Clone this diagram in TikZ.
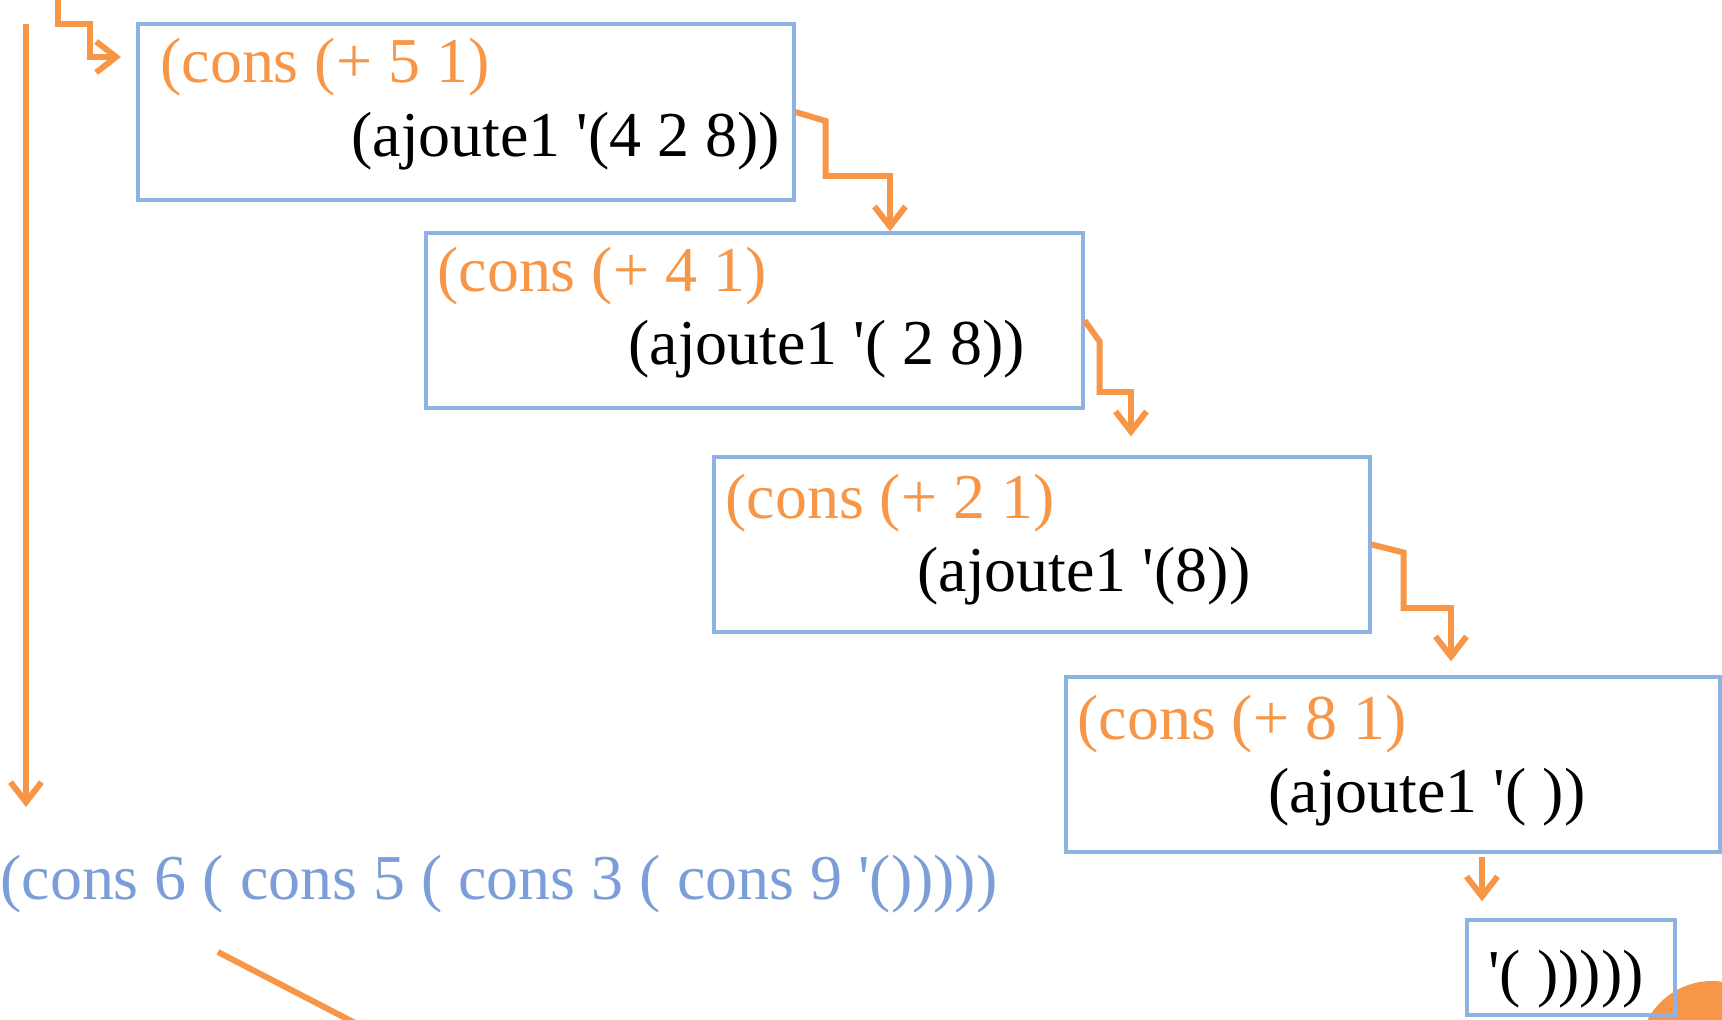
\documentclass[tikz,border=0pt]{standalone}
\usepackage{fontspec}
\setmainfont{Liberation Serif}[Ligatures=TeXOff]
\usetikzlibrary{arrows.meta}
\definecolor{lisporange}{HTML}{F79646}
\definecolor{boxblue}{HTML}{8DB3E2}
\definecolor{resblue}{HTML}{7B9ED9}
\begin{document}
\begin{tikzpicture}[x=0.02cm, y=-0.02cm,
  frame/.style={draw=boxblue, line width=1.9pt, inner sep=0pt},
  call/.style={text=lisporange, anchor=base west, inner sep=0pt, font=\fontsize{36.4}{43}\selectfont},
  rec/.style={text=black, anchor=base west, inner sep=0pt, font=\fontsize{36.4}{43}\selectfont},
  conn/.style={draw=lisporange, line width=3.4pt, -{Straight Barb[length=0.4cm,width=0.62cm]}}]

\useasboundingbox (0,0) rectangle (1722,1019);
\clip (0,0) rectangle (1722,1019);

\fill[lisporange] (1712,1054) circle (1.46cm);
\draw[lisporange, line width=3.4pt] (218,952) -- (388,1040);

\node[frame, minimum width=13.12cm, minimum height=3.52cm] (b1) at (466,112) {};
\node[frame, minimum width=13.14cm, minimum height=3.5cm] (b2) at (754.5,320.5) {};
\node[frame, minimum width=13.12cm, minimum height=3.5cm] (b3) at (1042,544.5) {};
\node[frame, minimum width=13.08cm, minimum height=3.5cm] (b4) at (1393,764.5) {};
\node[frame, minimum width=4.16cm, minimum height=1.9cm] (b5) at (1571,967.5) {};

\node[call] (t1) at (160,82) {(cons (+ 5 1)};
\node[rec] (r1) at (351,156) {(ajoute1 '(4 2 8))};
\node[call] (t2) at (437,291) {(cons (+ 4 1)};
\node[rec] (r2) at (628,364) {(ajoute1 '( 2 8))};
\node[call] (t3) at (725,518) {(cons (+ 2 1)};
\node[rec] (r3) at (917,591) {(ajoute1 '(8))};
\node[call] (t4) at (1077,739) {(cons (+ 8 1)};
\node[rec] (r4) at (1268,812) {(ajoute1 '( ))};
\node[rec] (r5) at (1488,994) {'( )))))};
\node[rec, text=resblue] (res) at (0,899) {(cons 6 ( cons 5 ( cons 3 ( cons 9 '()))))};

\coordinate (s0) at (58,0);
\coordinate (e0) at (121,57);
\coordinate (k1) at (890,176);
\coordinate (k2) at (1131,392);
\coordinate (k3) at (1451,608);
\coordinate (k4) at (1482,857);
\coordinate (l0) at (26,24);
\coordinate (l1) at (26,807);

\draw[conn] (s0) -- (58,24) -- (90,24) |- (e0);
\draw[conn] (b1.east) -- ++(30,9) |- (k1) -- (k1 |- b2.north);
\draw[conn, shorten >=0.38cm] (b2.east) -- ++(15,21) |- (k2) -- (k2 |- b3.north);
\draw[conn, shorten >=0.28cm] (b3.east) -- ++(32,8) |- (k3) -- (k3 |- b4.north);
\draw[conn, shorten >=0.34cm] (k4) -- (k4 |- b5.north);
\draw[conn] (l0) -- (l1);
\end{tikzpicture}
\end{document}
